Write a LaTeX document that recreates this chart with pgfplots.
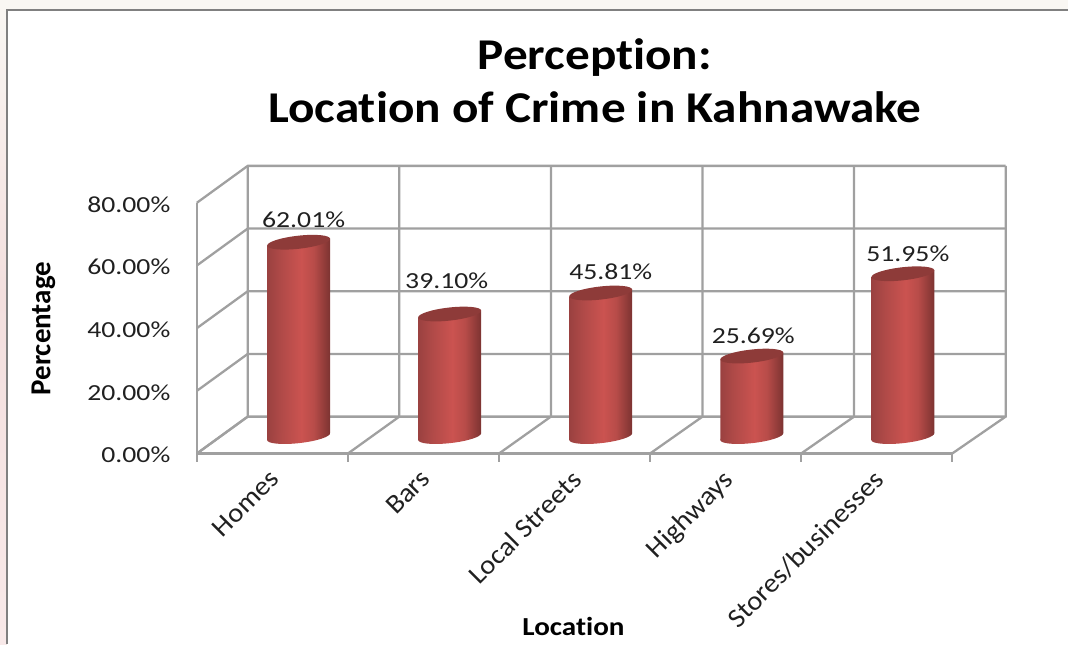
\documentclass[border=0pt]{standalone}
\usepackage{pgfplots}
\usepackage{fontspec}
\pgfplotsset{compat=1.18}
\setmainfont[Ligatures=NoCommon]{Carlito}
\newfontfamily\tickfont[FakeStretch=1.205]{Carlito}
\newfontfamily\titlefont[FakeStretch=1.12,Ligatures=NoCommon]{Carlito}
\newfontfamily\catfont[FakeStretch=1.06,Ligatures=NoCommon]{Carlito}
\definecolor{gridc}{HTML}{A0A0A0}
\definecolor{txt}{HTML}{202020}
\definecolor{capc}{HTML}{8E3B39}
\definecolor{c0}{HTML}{9A4140}
\definecolor{c1}{HTML}{B04A48}
\definecolor{c2}{HTML}{CB5350}
\definecolor{c3}{HTML}{B84C49}
\definecolor{c4}{HTML}{7C3331}
\definecolor{bandtop}{HTML}{F9F7F3}
\definecolor{bandmid}{HTML}{F3DFDE}
\definecolor{bandlow}{HTML}{F8E9E9}
\pgfdeclarehorizontalshading{cylshade}{100bp}{
  color(0bp)=(c0); color(25bp)=(c0); color(36bp)=(c1); color(52bp)=(c2);
  color(62bp)=(c3); color(75bp)=(c4); color(100bp)=(c4)}

% one cylinder, mark sits at the centre of the top face, \rawy is the value
\pgfdeclareplotmark{cyl}{%
  \pgfmathsetmacro\h{\rawy*3.1375}%
  \pgfpathmoveto{\pgfpoint{-31.5pt}{-3.5pt}}%
  \pgfpathlineto{\pgfpoint{-31.5pt}{-\h pt-3.5pt}}%
  \pgfpathlineto{\pgfpoint{31.5pt}{-\h pt+3.5pt}}%
  \pgfpathlineto{\pgfpoint{31.5pt}{3.5pt}}%
  \pgfpathclose
  \pgfshadepath{cylshade}{0}\pgfusepath{discard}%
  \pgfpathellipse{\pgfpoint{0pt}{-\h pt}}{\pgfpoint{31.5pt}{3.5pt}}{\pgfpoint{-0.7pt}{6.5pt}}%
  \pgfshadepath{cylshade}{0}\pgfusepath{discard}%
  \pgfsetfillcolor{capc}%
  \pgfpathellipse{\pgfpointorigin}{\pgfpoint{31.5pt}{3.5pt}}{\pgfpoint{-0.7pt}{6.5pt}}%
  \pgfusepath{fill}%
}

\begin{document}
\begin{tikzpicture}[x=1pt,y=1pt]
% window frame behind the chart
\path (0,0) rectangle (1069,645);
\fill[top color=bandtop, bottom color=bandmid] (0,645) rectangle (7,350);
\fill[top color=bandmid, bottom color=bandlow] (0,350) rectangle (7,0);
\fill[color=bandtop] (0,645) rectangle (1069,636);
\draw[color=black!50, line width=2pt] (7,0) -- (7,635) -- (1069,635);

% front frame, floor and walls
\begin{axis}[
  at={(197pt,191pt)}, anchor=south west, scale only axis,
  width=756pt, height=251pt,
  xmin=0, xmax=5, ymin=0, ymax=80,
  clip=false,
  axis x line*=bottom, axis y line*=left,
  axis line style={color=gridc, line width=2.3pt, -},
  xtick={0.5,1.5,2.5,3.5,4.5},
  xticklabels={Homes,Bars,Local Streets,Highways,Stores/businesses},
  minor xtick={0,1,2,3,4,5},
  ytick={0,20,40,60,80},
  major tick length=0pt,
  minor tick length=8pt,
  tick align=outside,
  every tick/.style={color=gridc, line width=2.3pt},
  minor tick style={color=gridc, line width=2.3pt},
  /pgf/number format/assume math mode=true,
  yticklabel={\pgfmathprintnumber[fixed,fixed zerofill,precision=2]{\tick}\%},
  yticklabel style={font=\fontsize{23}{25}\tickfont, color=txt, anchor=east, xshift=-23pt, yshift=-1.5pt},
  xticklabel style={font=\fontsize{27}{29}\catfont, color=txt, rotate=45, anchor=north east, xshift=-10pt, yshift=-4pt},
  every axis y label/.style={at={(axis description cs:-0.203,0.498)}, rotate=90, anchor=center},
  every axis x label/.style={at={(axis description cs:0.4987,-0.689)}, anchor=center},
  ylabel={\fontsize{29}{31}\selectfont\bfseries Percentage},
  xlabel={\fontsize{26}{28}\titlefont\bfseries Location},
  title style={at={(axis description cs:0.527,1.462)}, anchor=center, align=center, font=\fontsize{44}{53}\titlefont\bfseries, color=black},
  title={Perception:\\Location of Crime in Kahnawake},
]
\pgfplotsinvokeforeach{0,1,2,3,4,5}{
  \draw[color=gridc, line width=2.3pt] (axis cs:#1,0) -- (axis cs:#1*1.0035+0.337,11.79) -- (axis cs:#1*1.0035+0.337,91.79);
}
\pgfplotsinvokeforeach{0,20,40,60,80}{
  \draw[color=gridc, line width=2.3pt] (axis cs:0,#1) -- (axis cs:0.337,#1+11.79) -- (axis cs:5.355,#1+11.79);
}
\end{axis}

% cylinders stand half way into the floor
\begin{axis}[
  at={(223.3pt,208pt)}, anchor=south west, scale only axis,
  width=756pt, height=251pt,
  xmin=-0.5, xmax=4.5, ymin=0, ymax=80,
  clip=false, hide axis,
  /pgf/number format/assume math mode=true,
]
\addplot[
  only marks, mark=cyl, scatter, point meta=explicit symbolic,
  scatter/use mapped color={draw=none, fill=none},
  visualization depends on={\thisrow{v} \as \rawy},
  visualization depends on={\thisrow{dx} \as \dx},
  visualization depends on={\thisrow{dy} \as \dy},
  nodes near coords={\pgfmathprintnumber[fixed,fixed zerofill,precision=2]{\rawy}\%},
  every node near coord/.append style={font=\fontsize{23}{25}\tickfont, color=txt, anchor=center, xshift=\dx pt, yshift=\dy pt},
] table[x=i, y=v, meta=v] {
i v dx dy
0 62.01 5 22.5
1 39.10 -3 33
2 45.81 10 21
3 25.69 1.5 20.5
4 51.95 5 20
};
\end{axis}
\end{tikzpicture}
\end{document}
